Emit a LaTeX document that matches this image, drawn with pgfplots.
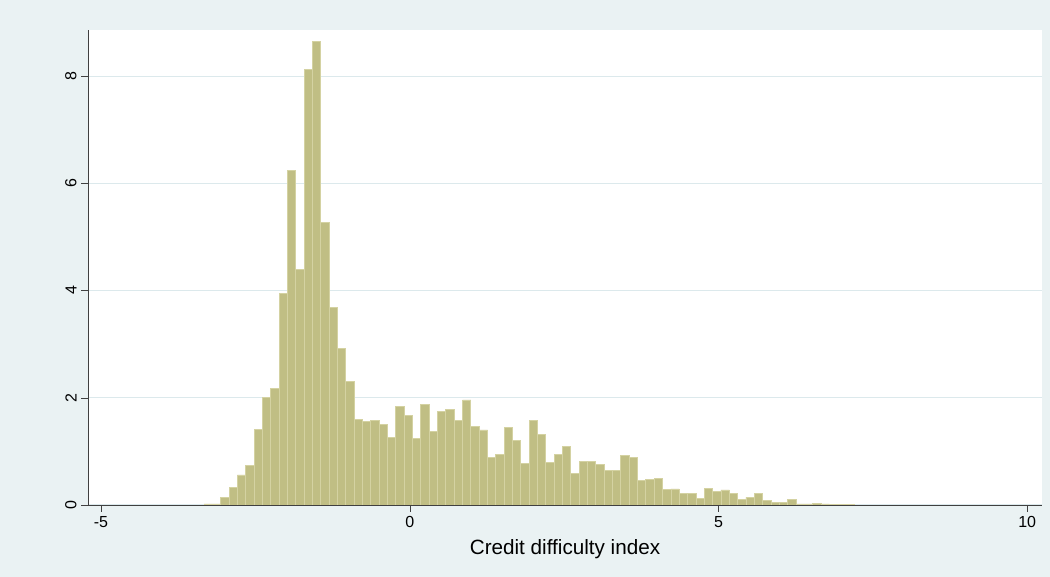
\documentclass[border=0pt]{standalone}
\usepackage{pgfplots}
\pgfplotsset{compat=1.18}
\usepackage{fontspec}
\setmainfont{Liberation Sans}
\definecolor{bg}{HTML}{EAF2F3}
\definecolor{barf}{HTML}{C0BE84}
\definecolor{bare}{HTML}{D4D2A2}
\definecolor{gridc}{HTML}{DCE9EC}
\begin{document}
\begin{tikzpicture}
\fill[bg] (-66pt,-54pt) rectangle (721.5pt,378.75pt);
\begin{axis}[at={(0,0)},anchor=south west,scale only axis,
 width=715.5pt,height=356.25pt,
 xmin=-5.21,xmax=10.24,ymin=0,ymax=8.86,
 axis background/.style={fill=white},
 axis x line*=bottom, axis y line*=left,
 axis line style={draw=black!75,-},
 xtick={-5,0,5,10}, ytick={0,2,4,6,8},
 tick align=outside, tick style={black!75},
 major tick length=5pt,
 ymajorgrids, grid style={gridc,line width=0.8pt},
 yticklabel style={rotate=90,anchor=south},
 ticklabel style={font=\fontsize{12}{14}\selectfont},
 /pgf/number format/assume math mode=true,
 xlabel={Credit difficulty index},
 xlabel style={font=\fontsize{15.5}{17}\selectfont,yshift=-2pt},
]
\addplot[ybar interval,fill=barf,draw=bare,line width=0.6pt]
 table[x expr={-3.33+\coordindex*0.135},y index=0,header=false]{
0.02
0.02
0.14
0.32
0.56
0.74
1.41
2.00
2.17
3.95
6.24
4.40
8.12
8.65
5.27
3.68
2.92
2.30
1.59
1.55
1.57
1.51
1.26
1.84
1.67
1.24
1.88
1.38
1.75
1.79
1.57
1.96
1.46
1.40
0.88
0.95
1.44
1.20
0.78
1.58
1.31
0.79
0.95
1.10
0.59
0.81
0.81
0.75
0.64
0.64
0.93
0.88
0.45
0.48
0.50
0.29
0.30
0.22
0.21
0.12
0.31
0.25
0.28
0.22
0.10
0.14
0.21
0.08
0.05
0.05
0.11
0.02
0.02
0.03
0.02
0.01
0.01
0.01
0.01
};
\end{axis}
\end{tikzpicture}
\end{document}
